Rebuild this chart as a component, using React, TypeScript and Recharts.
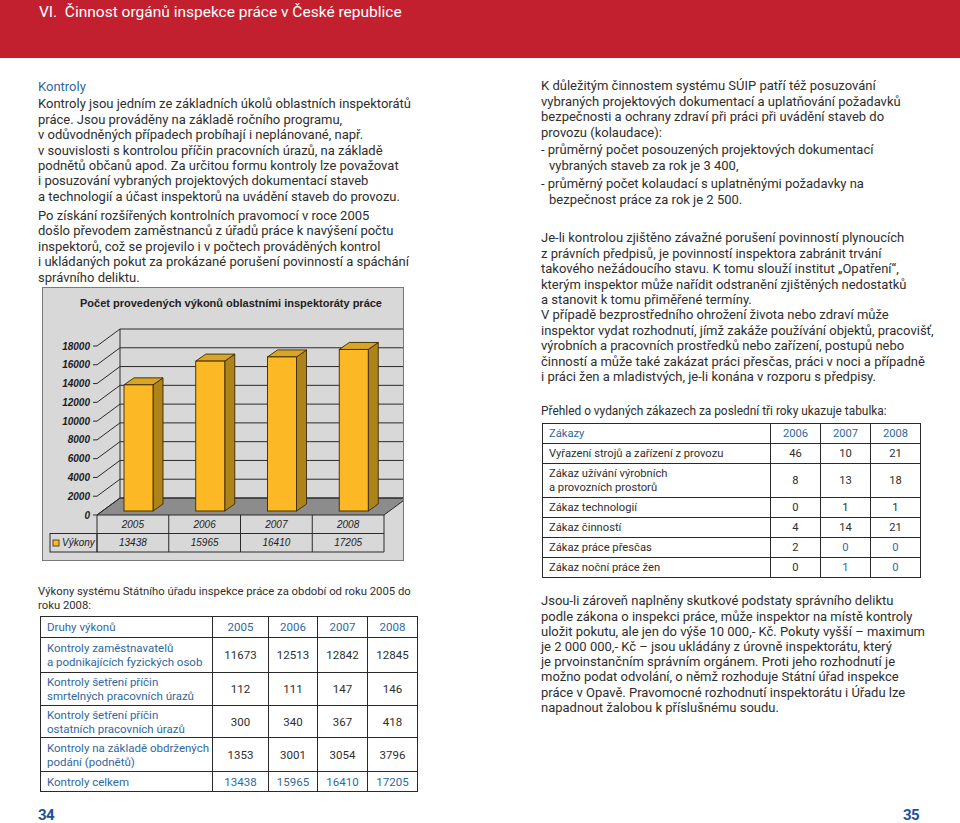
import React from "react";
import { BarChart, Bar, XAxis, YAxis, CartesianGrid } from "recharts";

// chart data
const YEARS = ["2005", "2006", "2007", "2008"];
const VYKONY = [13438, 15965, 16410, 17205];
const Y_TICKS = [0, 2000, 4000, 6000, 8000, 10000, 12000, 14000, 16000, 18000];
const SERIES_NAME = "Výkony";
const CHART_TITLE = "Počet provedených výkonů oblastními inspektoráty práce";

// table 1
const T1_HEAD = ["Druhy výkonů", "2005", "2006", "2007", "2008"];
const T1_LABELS = [
  ["Kontroly zaměstnavatelů", "a podnikajících fyzických osob"],
  ["Kontroly šetření příčin", "smrtelných pracovních úrazů"],
  ["Kontroly šetření příčin", "ostatních pracovních úrazů"],
  ["Kontroly na základě obdržených", "podání (podnětů)"],
];
const T1_VALUES = [
  [11673, 12513, 12842, 12845],
  [112, 111, 147, 146],
  [300, 340, 367, 418],
  [1353, 3001, 3054, 3796],
];
const T1_TOTAL_LABEL = "Kontroly celkem";
const T1_TOTAL = [13438, 15965, 16410, 17205];

// table 2
const T2_HEAD = ["Zákazy", "2006", "2007", "2008"];
const T2_LABELS = [
  ["Vyřazení strojů a zařízení z provozu"],
  ["Zákaz užívání výrobních", "a provozních prostorů"],
  ["Zákaz technologií"],
  ["Zákaz činností"],
  ["Zákaz práce přesčas"],
  ["Zákaz noční práce žen"],
];
const T2_VALUES = [
  [46, 10, 21],
  [8, 13, 18],
  [0, 1, 1],
  [4, 14, 21],
  [2, 0, 0],
  [0, 1, 0],
];
// cells printed in blue in the original (row-column of the value grid)
const T2_BLUE = ["4-1", "4-2", "5-1", "5-2"];

const BLUE = "#2f68a0";
const TEXT = "#2e2e2e";
const LINE = "#2a2a2a";

// chart geometry
const CHART_W = 360;
const CHART_H = 272;
const M_TOP = 58;
const M_RIGHT = 19;
const Y_AXIS_W = 54;
const X_AXIS_H = 45;
const PLOT_TOP = M_TOP;
const PLOT_BOTTOM = CHART_H - X_AXIS_H;
const PLOT_W = CHART_W - M_RIGHT - Y_AXIS_W;
const BAND_W = PLOT_W / YEARS.length;
const DX = 23; // wall depth
const DY = 17;
const BX = 6; // bar position inside the floor
const BY = 4;
const BDX = 10; // bar depth
const BDY = 7;

const chartData = YEARS.map((year, i) => ({ year, vykony: VYKONY[i] }));

function gridLine(props: any) {
  const { x1, y1, x2 } = props;
  const by = y1 - DY;
  const isFloor = Math.abs(y1 - PLOT_BOTTOM) < 1;
  const isTop = Math.abs(y1 - PLOT_TOP) < 1;
  return (
    <g key={`g-${y1}`}>
      {isFloor && (
        <polygon
          points={`${x1},${y1} ${x2},${y1} ${x2 + DX},${by} ${x1 + DX},${by}`}
          fill="#8c8c8c"
          stroke={LINE}
        />
      )}
      {isTop && (
        <line x1={x1 + DX} y1={by} x2={x1 + DX} y2={PLOT_BOTTOM - DY} stroke={LINE} />
      )}
      <line x1={x1} y1={y1} x2={x1 + DX} y2={by} stroke={LINE} />
      <line x1={x1 + DX} y1={by} x2={x2 + DX} y2={by} stroke={LINE} />
    </g>
  );
}

function bar3d(props: any) {
  const { x, y, width, height } = props;
  if (height == null || width == null) return <g />;
  const fx = x + BX;
  const fy = y - BY;
  const w = width;
  const h = height;
  const stroke = "#3a2a05";
  return (
    <g>
      <polygon
        points={`${fx + w},${fy} ${fx + w + BDX},${fy - BDY} ${fx + w + BDX},${fy + h - BDY} ${fx + w},${fy + h}`}
        fill="#ad831a"
        stroke={stroke}
        strokeWidth={0.9}
      />
      <polygon
        points={`${fx},${fy} ${fx + BDX},${fy - BDY} ${fx + w + BDX},${fy - BDY} ${fx + w},${fy}`}
        fill="#d8a526"
        stroke={stroke}
        strokeWidth={0.9}
      />
      <rect x={fx} y={fy} width={w} height={h} fill="#fdb925" stroke={stroke} strokeWidth={0.9} />
    </g>
  );
}

const cellFont = {
  fontFamily: "Liberation Sans",
  fontStyle: "italic",
  fontSize: 10,
  fill: "#222",
};

function tableTick(props: any) {
  const { x, y, payload } = props;
  const i = YEARS.indexOf(String(payload.value));
  const left = x - BAND_W / 2;
  const r1 = 18.5;
  const r2 = 37;
  return (
    <g>
      <line x1={left} y1={y} x2={left} y2={y + r2} stroke={LINE} />
      {i === YEARS.length - 1 && (
        <line x1={left + BAND_W} y1={y} x2={left + BAND_W} y2={y + r2} stroke={LINE} />
      )}
      <line x1={left} y1={y + r1} x2={left + BAND_W} y2={y + r1} stroke={LINE} />
      <line x1={left} y1={y + r2} x2={left + BAND_W} y2={y + r2} stroke={LINE} />
      <text x={x} y={y + r1 / 2 + 3.5} textAnchor="middle" {...cellFont}>
        {payload.value}
      </text>
      <text x={x} y={y + (r1 + r2) / 2 + 3.5} textAnchor="middle" {...cellFont}>
        {VYKONY[i]}
      </text>
      {i === 0 && (
        <g>
          <rect x={left - 47} y={y + r1} width={47} height={r2 - r1} fill="none" stroke={LINE} />
          <rect x={left - 44} y={y + 25} width={6} height={6} fill="#fdb925" stroke="#3a2a05" strokeWidth={0.8} />
          <text x={left - 35} y={y + (r1 + r2) / 2 + 3.5} {...cellFont}>
            {SERIES_NAME}
          </text>
        </g>
      )}
    </g>
  );
}

function PerformanceChart() {
  return (
    <div
      style={{
        position: "absolute",
        left: 42,
        top: 287,
        width: CHART_W + 2,
        height: CHART_H + 2,
        boxSizing: "border-box",
        border: "1px solid #7a7a7a",
        background: "#d8d8d8",
        overflow: "hidden",
      }}
    >
      <div
        style={{
          position: "absolute",
          left: 0,
          top: 9,
          width: 376,
          textAlign: "center",
          fontFamily: "Liberation Sans",
          fontWeight: 700,
          fontSize: 11,
          color: "#222",
          whiteSpace: "nowrap",
        }}
      >
        {CHART_TITLE}
      </div>
      <BarChart
        width={CHART_W}
        height={CHART_H}
        data={chartData}
        margin={{ top: M_TOP, right: M_RIGHT, left: 0, bottom: 0 }}
        barCategoryGap={0}
      >
        <CartesianGrid horizontal={gridLine} vertical={false} stroke={LINE} />
        <XAxis
          dataKey="year"
          height={X_AXIS_H}
          axisLine={false}
          tickLine={false}
          tickSize={0}
          tickMargin={0}
          interval={0}
          tick={tableTick}
        />
        <YAxis
          width={Y_AXIS_W}
          domain={[0, 18000]}
          ticks={Y_TICKS}
          interval={0}
          axisLine={false}
          tickLine={{ stroke: LINE }}
          tickSize={4}
          tickMargin={3}
          tick={{
            fontFamily: "Liberation Sans",
            fontStyle: "italic",
            fontWeight: 700,
            fontSize: 10,
            fill: "#1c1c1c",
          }}
        />
        <Bar dataKey="vykony" barSize={29} isAnimationActive={false} shape={bar3d} />
      </BarChart>
    </div>
  );
}

function Para({
  left,
  top,
  lines,
  lh = 15.4,
  size = 13,
  color = TEXT,
  hang = false,
}: {
  left: number;
  top: number;
  lines: string[];
  lh?: number;
  size?: number;
  color?: string;
  hang?: boolean;
}) {
  return (
    <div
      style={{
        position: "absolute",
        left,
        top,
        fontSize: size,
        lineHeight: `${lh}px`,
        color,
        whiteSpace: "nowrap",
      }}
    >
      {lines.map((l, i) => (
        <div key={i} style={{ paddingLeft: hang && i > 0 ? 8 : 0 }}>
          {l}
        </div>
      ))}
    </div>
  );
}

function GridTable({
  left,
  top,
  cols,
  rows,
  cell,
  size,
}: {
  left: number;
  top: number;
  cols: number[];
  rows: number[];
  cell: (r: number, c: number) => { lines: string[]; color: string; align: "left" | "center" };
  size: number;
}) {
  const W = cols.reduce((a, b) => a + b, 0);
  const H = rows.reduce((a, b) => a + b, 0);
  const items: React.ReactNode[] = [];
  let y = 0;
  rows.forEach((rh, r) => {
    let x = 0;
    cols.forEach((cw, c) => {
      const info = cell(r, c);
      items.push(
        <div
          key={`${r}-${c}`}
          style={{
            position: "absolute",
            left: x,
            top: y,
            width: cw,
            height: rh,
            boxSizing: "border-box",
            borderLeft: `1.5px solid ${LINE}`,
            borderTop: `1.5px solid ${LINE}`,
            display: "flex",
            flexDirection: "column",
            justifyContent: "center",
            alignItems: info.align === "left" ? "flex-start" : "center",
            paddingLeft: info.align === "left" ? 6 : 0,
            color: info.color,
            fontSize: size,
            lineHeight: "14px",
            whiteSpace: "nowrap",
          }}
        >
          {info.lines.map((l, i) => (
            <div key={i}>{l}</div>
          ))}
        </div>
      );
      x += cw;
    });
    y += rh;
  });
  return (
    <div
      style={{
        position: "absolute",
        left,
        top,
        width: W,
        height: H,
        boxSizing: "content-box",
        borderRight: `1.5px solid ${LINE}`,
        borderBottom: `1.5px solid ${LINE}`,
      }}
    >
      {items}
    </div>
  );
}

function table1Cell(r: number, c: number) {
  if (r === 0) return { lines: [T1_HEAD[c]], color: BLUE, align: c === 0 ? "left" : "center" } as const;
  if (r === T1_LABELS.length + 1) {
    if (c === 0) return { lines: [T1_TOTAL_LABEL], color: BLUE, align: "left" } as const;
    return { lines: [String(T1_TOTAL[c - 1])], color: BLUE, align: "center" } as const;
  }
  if (c === 0) return { lines: T1_LABELS[r - 1], color: BLUE, align: "left" } as const;
  return { lines: [String(T1_VALUES[r - 1][c - 1])], color: TEXT, align: "center" } as const;
}

function table2Cell(r: number, c: number) {
  if (r === 0) return { lines: [T2_HEAD[c]], color: BLUE, align: c === 0 ? "left" : "center" } as const;
  if (c === 0) return { lines: T2_LABELS[r - 1], color: TEXT, align: "left" } as const;
  const blue = T2_BLUE.includes(`${r - 1}-${c - 1}`);
  return { lines: [String(T2_VALUES[r - 1][c - 1])], color: blue ? BLUE : TEXT, align: "center" } as const;
}

const pageNo = {
  position: "absolute" as const,
  top: 809,
  fontSize: 15,
  fontWeight: 700,
  lineHeight: "13px",
  color: "#1d4f9c",
  letterSpacing: -0.5,
};

export default function App() {
  return (
    <div
      style={{
        position: "absolute",
        left: 0,
        top: 0,
        width: 960,
        height: 823,
        background: "#fff",
        overflow: "hidden",
        fontFamily: "Roboto, 'Noto Sans', sans-serif",
      }}
    >
      <div style={{ position: "absolute", left: 0, top: 0, width: 960, height: 58, background: "#c3202f" }} />
      <div
        style={{
          position: "absolute",
          left: 39,
          top: 3,
          color: "#fff",
          fontSize: 15.5,
          lineHeight: "18px",
          whiteSpace: "pre",
        }}
      >
        {"VI.  Činnost orgánů inspekce práce v České republice"}
      </div>

      <Para left={38} top={79.3} lines={["Kontroly"]} color={BLUE} />
      <Para
        left={38}
        top={96.3}
        lines={[
          "Kontroly jsou jedním ze základních úkolů oblastních inspektorátů",
          "práce. Jsou prováděny na základě ročního programu,",
          "v odůvodněných případech probíhají i neplánované, např.",
          "v souvislosti s kontrolou příčin pracovních úrazů, na základě",
          "podnětů občanů apod. Za určitou formu kontroly lze považovat",
          "i posuzování vybraných projektových dokumentací staveb",
          "a technologií a účast inspektorů na uvádění staveb do provozu.",
        ]}
      />
      <Para
        left={38}
        top={208}
        lines={[
          "Po získání rozšířených kontrolních pravomocí v roce 2005",
          "došlo převodem zaměstnanců z úřadů práce k navýšení počtu",
          "inspektorů, což se projevilo i v počtech prováděných kontrol",
          "i ukládaných pokut za prokázané porušení povinností a spáchání",
          "správního deliktu.",
        ]}
      />

      <PerformanceChart />

      <Para
        left={38}
        top={584.5}
        lh={14.5}
        size={11.3}
        lines={["Výkony systému Státního úřadu inspekce práce za období od roku 2005 do", "roku 2008:"]}
      />
      <GridTable
        left={40}
        top={616}
        cols={[172, 56, 49, 50, 50]}
        rows={[21, 35, 33, 32, 34, 20]}
        size={11.5}
        cell={table1Cell}
      />

      <Para
        left={541}
        top={78.3}
        lines={[
          "K důležitým činnostem systému SÚIP patří též posuzování",
          "vybraných projektových dokumentací a uplatňování požadavků",
          "bezpečnosti a ochrany zdraví při práci při uvádění staveb do",
          "provozu (kolaudace):",
        ]}
      />
      <Para
        left={541}
        top={142.3}
        hang
        lines={["- průměrný počet posouzených projektových dokumentací", "vybraných staveb za rok je 3 400,"]}
      />
      <Para
        left={541}
        top={176.3}
        hang
        lines={["- průměrný počet kolaudací s uplatněnými požadavky na", "bezpečnost práce za rok je 2 500."]}
      />
      <Para
        left={541}
        top={230.3}
        lines={[
          "Je-li kontrolou zjištěno závažné porušení povinností plynoucích",
          "z právních předpisů, je povinností inspektora zabránit trvání",
          "takového nežádoucího stavu. K tomu slouží institut „Opatření“,",
          "kterým inspektor může nařídit odstranění zjištěných nedostatků",
          "a stanovit k tomu přiměřené termíny.",
        ]}
      />
      <Para
        left={541}
        top={307.3}
        lines={[
          "V případě bezprostředního ohrožení života nebo zdraví může",
          "inspektor vydat rozhodnutí, jímž zakáže používání objektů, pracovišť,",
          "výrobních a pracovních prostředků nebo zařízení, postupů nebo",
          "činností a může také zakázat práci přesčas, práci v noci a případně",
          "i práci žen a mladistvých, je-li konána v rozporu s předpisy.",
        ]}
      />
      <Para
        left={541}
        top={403.5}
        size={11.9}
        lines={["Přehled o vydaných zákazech za poslední tři roky ukazuje tabulka:"]}
      />
      <GridTable
        left={542}
        top={423}
        cols={[228, 50, 50, 50]}
        rows={[20, 20, 34, 20, 20, 20, 20]}
        size={11.2}
        cell={table2Cell}
      />
      <Para
        left={541}
        top={593.3}
        lh={15.2}
        lines={[
          "Jsou-li zároveň naplněny skutkové podstaty správního deliktu",
          "podle zákona o inspekci práce, může inspektor na místě kontroly",
          "uložit pokutu, ale jen do výše 10 000,- Kč. Pokuty vyšší – maximum",
          "je 2 000 000,- Kč – jsou ukládány z úrovně inspektorátu, který",
          "je prvoinstančním správním orgánem. Proti jeho rozhodnutí je",
          "možno podat odvolání, o němž rozhoduje Státní úřad inspekce",
          "práce v Opavě. Pravomocné rozhodnutí inspektorátu i Úřadu lze",
          "napadnout žalobou k příslušnému soudu.",
        ]}
      />

      <div style={{ ...pageNo, left: 38 }}>34</div>
      <div style={{ ...pageNo, left: 903 }}>35</div>
    </div>
  );
}
